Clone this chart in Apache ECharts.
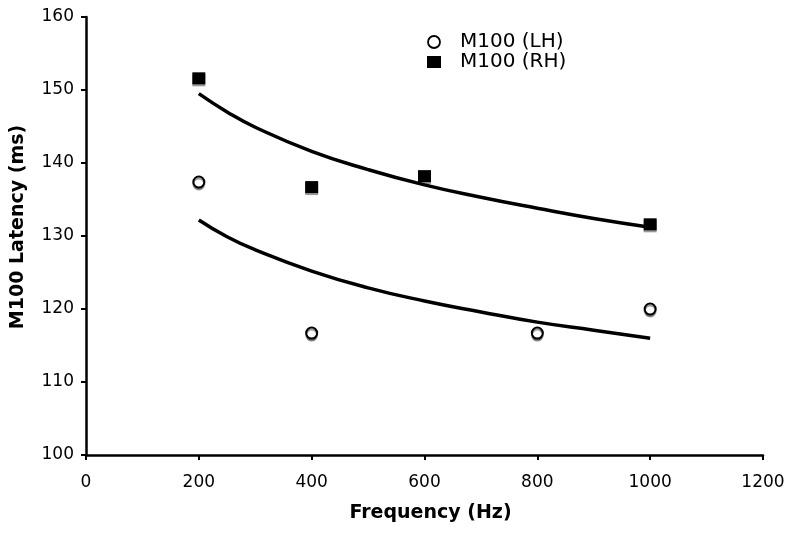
<!DOCTYPE html>
<html><head><meta charset="utf-8">
<script src="https://cdn.jsdelivr.net/npm/echarts@6/dist/echarts.min.js"></script>
<style>html,body{margin:0;padding:0;background:#fff}#c{width:800px;height:533px}</style>
</head><body><div id="c"></div>
<script>
var lhFreq = [200, 400, 800, 1000];
var lhLatency = [137.4, 116.7, 116.7, 120.0];
var rhFreq = [200, 400, 600, 1000];
var rhLatency = [151.6, 136.7, 138.2, 131.6];
var trendFreq = [200, 250, 300, 400, 500, 600, 700, 800, 900, 1000];
var rhTrend = [149.5, 147.0, 144.9, 141.6, 139.1, 137.0, 135.3, 133.8, 132.4, 131.2];
var lhTrend = [132.2, 129.9, 128.1, 125.2, 122.9, 121.1, 119.6, 118.2, 117.1, 116.0];
var xTicks = [0, 200, 400, 600, 800, 1000, 1200];
var yTicks = [100, 110, 120, 130, 140, 150, 160];

function pairs(xs, ys){ return xs.map(function(x,i){return [x, ys[i]];}); }
var font = 'DejaVu Sans, Verdana, sans-serif';
var chart = echarts.init(document.getElementById('c'), null, {renderer:'canvas'});
chart.setOption({
  animation:false,
  backgroundColor:'#fff',
  grid:{left:86, right:37, top:17, bottom:78, containLabel:false},
  legend:{
    orient:'vertical', left:422, top:27, itemGap:0, itemWidth:14, itemHeight:12,
    textStyle:{fontFamily:font, fontSize:20, lineHeight:19, color:'#000', padding:[0,0,0,14]},
    data:[
      {name:'M100 (LH)', icon:'circle', itemStyle:{color:'#fff', borderColor:'#000', borderWidth:1.8}},
      {name:'M100 (RH)', icon:'rect', itemStyle:{color:'#000'}}
    ]
  },
  xAxis:{
    type:'value', min:0, max:1200, interval:200,
    name:'Frequency (Hz)', nameLocation:'middle', nameGap:49,
    nameTextStyle:{fontFamily:font, fontSize:19, fontWeight:'bold', color:'#000', padding:[0,0,0,12]},
    axisLine:{show:true, onZero:false, lineStyle:{color:'#000', width:2.5}},
    axisTick:{show:true, length:5, lineStyle:{color:'#000', width:2}},
    axisLabel:{fontFamily:font, fontSize:17, color:'#000', margin:19,
      formatter:function(v){return xTicks.indexOf(v)>=0 ? String(v) : '';}},
    splitLine:{show:false}
  },
  yAxis:{
    type:'value', min:100, max:160, interval:10,
    name:'M100 Latency (ms)', nameLocation:'middle', nameGap:58,
    nameTextStyle:{fontFamily:font, fontSize:19, fontWeight:'bold', color:'#000', padding:[0,0,0,18]},
    axisLine:{show:true, lineStyle:{color:'#000', width:2.5}},
    axisTick:{show:true, length:5, lineStyle:{color:'#000', width:2}},
    axisLabel:{fontFamily:font, fontSize:17, color:'#000', margin:12,
      formatter:function(v){return yTicks.indexOf(v)>=0 ? String(v) : '';}},
    splitLine:{show:false}
  },
  series:[
    {name:'RH trend', type:'line', data:pairs(trendFreq, rhTrend), smooth:true, symbol:'none',
     lineStyle:{color:'#000', width:3.5}, z:2, silent:true},
    {name:'LH trend', type:'line', data:pairs(trendFreq, lhTrend), smooth:true, symbol:'none',
     lineStyle:{color:'#000', width:3.5}, z:2, silent:true},
    {name:'M100 (LH)', type:'scatter', data:pairs(lhFreq, lhLatency), symbol:'circle', symbolSize:11,
     itemStyle:{color:'#fff', borderColor:'#000', borderWidth:2, opacity:1, shadowColor:'rgba(0,0,0,0.4)', shadowOffsetY:2, shadowBlur:0}, z:3},
    {name:'M100 (RH)', type:'scatter', data:pairs(rhFreq, rhLatency), symbol:'rect', symbolSize:[13,12],
     itemStyle:{color:'#000', opacity:1, shadowColor:'rgba(0,0,0,0.4)', shadowOffsetY:2, shadowBlur:0}, z:3}
  ]
});
</script></body></html>
